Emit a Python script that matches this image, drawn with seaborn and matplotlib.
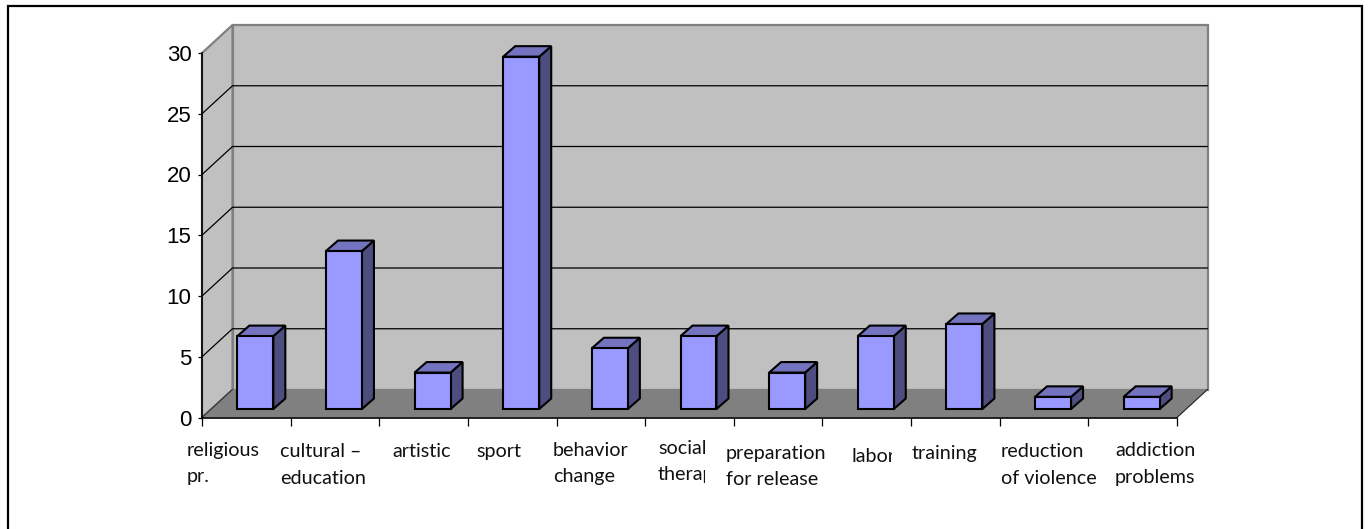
import matplotlib
matplotlib.use("Agg")
import matplotlib.pyplot as plt
from matplotlib.lines import Line2D
from matplotlib.patches import Polygon, Rectangle
from matplotlib.transforms import Bbox
import pandas as pd
import seaborn as sns

programs = ["religious pr.", "cultural – education", "artistic", "sport", "behavior change",
            "social therapy", "preparation for release", "labor", "training",
            "reduction of violence", "addiction problems"]
counts = [6, 13, 3, 29, 5, 6, 3, 6, 7, 1, 1]
y_ticks = [0, 5, 10, 15, 20, 25, 30]

# each category label: lines with their baselines in pixels, left edge, optional clip edge
label_lines = [
    (["religious", "pr."], [456, 482], 187, None),
    (["cultural –", "education"], [457, 484], 280, None),
    (["artistic"], [457], 392, None),
    (["sport"], [457], 476, None),
    (["behavior", "change"], [456, 482], 553, None),
    (["social", "therapy"], [454, 480], 658, 705),
    (["preparation", "for release"], [459, 485], 726, None),
    (["labor"], [462], 852, 892),
    (["training"], [459], 912, None),
    (["reduction", "of violence"], [457, 484], 1001, None),
    (["addiction", "problems"], [456, 483], 1115, None),
]

W, H = 1369, 529
X0, X1, Y0, Y30 = 202.0, 1177.0, 417.5, 53.0

sns.set_theme(style="white")
fig = plt.figure(figsize=(W / 100, H / 100), dpi=100)
ax = fig.add_axes([X0 / W, 1 - Y0 / H, (X1 - X0) / W, (Y0 - Y30) / H])
ax.patch.set_visible(False)

ux = (X1 - X0) / len(programs)
uy = (Y0 - Y30) / 30
wall_dx, wall_dy = 30.5 / ux, 28.0 / uy       # depth of the chart box
bar_fx, bar_fy = 9.0 / ux, 8.5 / uy           # bars stand a little behind the front edge
bar_dx, bar_dy = 12.0 / ux, 10.5 / uy         # depth of each bar
xl, xr = -0.5, len(programs) - 0.5

# chart box: back wall, left wall and floor
grey_edge = "#808080"
ax.add_patch(Polygon([(xl + wall_dx, wall_dy), (xr + wall_dx, wall_dy), (xr + wall_dx, 30 + wall_dy), (xl + wall_dx, 30 + wall_dy)],
                     fc="#C0C0C0", ec=grey_edge, lw=1.6, clip_on=False, zorder=1))
ax.add_patch(Polygon([(xl, 0), (xl + wall_dx, wall_dy), (xl + wall_dx, 30 + wall_dy), (xl, 30)],
                     fc="#C0C0C0", ec=grey_edge, lw=1.6, clip_on=False, zorder=1))
ax.add_patch(Polygon([(xl, 0), (xr, 0), (xr + wall_dx, wall_dy), (xl + wall_dx, wall_dy)],
                     fc="#808080", ec="none", clip_on=False, zorder=1.5))
ax.plot([xr, xr + wall_dx], [0, wall_dy], color="#202020", lw=0.8, clip_on=False, zorder=1.6)
ax.plot([xl, xl + wall_dx], [0, wall_dy], color="#303030", lw=0.8, clip_on=False, zorder=1.6)

# gridlines wrap from the left wall onto the back wall
for t in y_ticks[1:-1]:
    ax.plot([xl, xl + wall_dx, xr + wall_dx], [t, t + wall_dy, t + wall_dy],
            color="black", lw=0.9, clip_on=False, zorder=2)

# front faces of the bars
df = pd.DataFrame({"program": programs, "count": counts})
sns.barplot(data=df, x="program", y="count", ax=ax, color="#9999FF", saturation=1,
            width=0.406, bottom=bar_fy, edgecolor="black", linewidth=1.5, zorder=4)
for patch in list(ax.patches):
    if isinstance(patch, Rectangle):
        patch.set_x(patch.get_x() + bar_fx)
        patch.set_clip_on(False)
        patch.set_joinstyle("miter")
        # side and top faces built from the bar's own rectangle
        x, y, w, h = patch.get_x(), patch.get_y(), patch.get_width(), patch.get_height()
        ax.add_patch(Polygon([(x + w, y), (x + w + bar_dx, y + bar_dy), (x + w + bar_dx, y + h + bar_dy), (x + w, y + h)],
                             fc="#4D4D80", ec="black", lw=1.5, joinstyle="miter", clip_on=False, zorder=3))
        ax.add_patch(Polygon([(x, y + h), (x + bar_dx, y + h + bar_dy), (x + w + bar_dx, y + h + bar_dy), (x + w, y + h)],
                             fc="#7373BF", ec="black", lw=1.5, joinstyle="miter", clip_on=False, zorder=3))

ax.set_xlim(xl, xr)
ax.set_ylim(0, 30)
ax.set_xlabel("")
ax.set_ylabel("")
for side in ["top", "right"]:
    ax.spines[side].set_visible(False)
for side in ["left", "bottom"]:
    ax.spines[side].set_visible(True)
    ax.spines[side].set_color("black")
    ax.spines[side].set_linewidth(1.2)
    ax.spines[side].set_zorder(5)

ax.set_yticks(y_ticks)
ax.set_yticklabels([str(t) for t in y_ticks], fontfamily="Liberation Sans", fontsize=16, color="black")
ax.tick_params(axis="y", left=True, length=3, width=0.9, color="black", pad=4.5)
ax.set_xticks([i - 0.5 for i in range(len(programs) + 1)])
ax.set_xticklabels([])
ax.tick_params(axis="x", bottom=True, length=5.5, width=0.9, color="black")

# category labels are placed line by line
for lines, baselines, px, clip_x in label_lines:
    for line, py in zip(lines, baselines):
        t = fig.text(px / W, 1 - py / H, line, fontfamily="Lato", fontsize=14.2, color="#111111",
                     ha="left", va="baseline")
        if clip_x:
            t.set_clip_box(Bbox([[px, 0], [clip_x, H]]))
            t.set_clip_on(True)

# outer frame runs off the bottom of the figure
fx0, fx1, fy = 7.5 / W, 1361.7 / W, 1 - 5.7 / H
fig.add_artist(Line2D([fx0, fx0, fx1, fx1], [0, fy, fy, 0], transform=fig.transFigure,
                      color="black", lw=1.6, solid_joinstyle="miter"))

fig.savefig("out.png", dpi=100)
